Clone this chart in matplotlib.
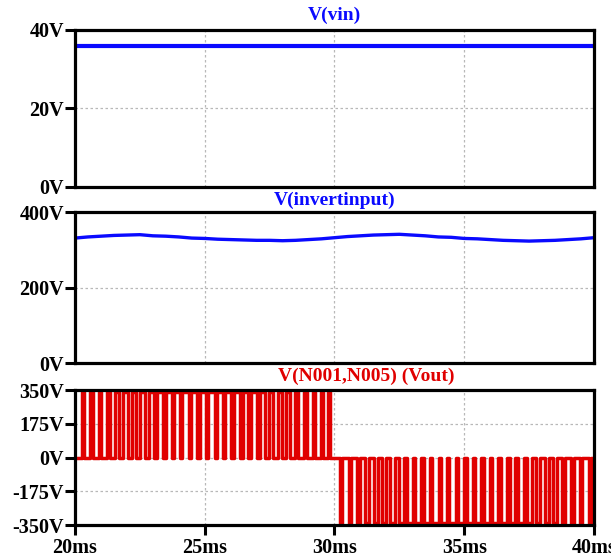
import matplotlib
matplotlib.use("Agg")
import matplotlib.pyplot as plt

plt.rcParams["font.family"] = ["Liberation Serif", "DejaVu Serif"]
plt.rcParams["font.weight"] = "bold"

# V(vin): constant input
vin_t = [20.0, 40.0]
vin_v = [36.0, 36.0]

# V(invertinput): DC bus with slow ripple (ms, V)
bus_t = [20, 20.5, 21, 21.5, 22, 22.5, 23, 23.5, 24, 24.5, 25, 25.5, 26, 26.5,
         27, 27.5, 28, 28.5, 29, 29.5, 30, 30.5, 31, 31.5, 32, 32.5, 33, 33.5,
         34, 34.5, 35, 35.5, 36, 36.5, 37, 37.5, 38, 38.5, 39, 39.5, 40]
bus_v = [331, 334, 336, 338, 339, 340, 337, 336, 334, 331, 330, 328, 327, 326,
         325, 325, 324, 325, 327, 329, 332, 335, 337, 339, 340, 341, 339, 337,
         334, 333, 330, 329, 327, 325, 324, 323, 324, 325, 327, 329, 332]

# V(N001,N005): PWM pulses (start ms, end ms) for each half cycle
vout_amp = 338.0
pos_pulses = [(20.27, 20.34), (20.59, 20.68), (20.91, 21.02), (21.23, 21.36),
              (21.55, 21.70), (21.87, 22.03), (22.19, 22.37), (22.51, 22.71),
              (22.84, 23.05), (23.16, 23.38), (23.49, 23.72), (23.81, 24.05),
              (24.14, 24.38), (24.47, 24.72), (24.80, 25.05), (25.13, 25.38),
              (25.46, 25.70), (25.79, 26.03), (26.12, 26.36), (26.46, 26.68),
              (26.80, 27.01), (27.13, 27.33), (27.47, 27.65), (27.81, 27.98),
              (28.15, 28.30), (28.48, 28.61), (28.82, 28.93), (29.17, 29.26),
              (29.50, 29.57), (29.75, 29.82)]
neg_pulses = [(30.20, 30.29), (30.55, 30.63), (30.87, 30.98), (31.19, 31.32),
              (31.51, 31.66), (31.83, 31.99), (32.15, 32.33), (32.47, 32.67),
              (32.80, 33.01), (33.12, 33.34), (33.45, 33.68), (33.77, 34.01),
              (34.10, 34.34), (34.43, 34.68), (34.76, 35.01), (35.09, 35.34),
              (35.42, 35.66), (35.75, 35.99), (36.08, 36.32), (36.42, 36.64),
              (36.76, 36.97), (37.09, 37.29), (37.43, 37.61), (37.77, 37.94),
              (38.11, 38.26), (38.44, 38.57), (38.78, 38.89), (39.13, 39.22),
              (39.46, 39.53), (39.80, 39.88)]

x_ticks = [20, 25, 30, 35, 40]
x_labels = ["20ms", "25ms", "30ms", "35ms", "40ms"]


def build_wave(pulses, level):
    t, v = [20.0], [0.0]
    for start, end in pulses:
        t += [start, start, end, end]
        v += [0.0, level, level, 0.0]
    return t, v


pt, pv = build_wave(pos_pulses, vout_amp)
nt, nv = build_wave(neg_pulses, -vout_amp)
out_t = pt + nt[1:] + [40.0]
out_v = pv + nv[1:] + [0.0]

fig = plt.figure(figsize=(6.11, 5.59), dpi=100)
left, width = 0.1227, 0.8494
ax1 = fig.add_axes([left, 0.6655, width, 0.2809])
ax2 = fig.add_axes([left, 0.3506, width, 0.2701])
ax3 = fig.add_axes([left, 0.0608, width, 0.2415])

blue = "#0a0aff"
red = "#e00000"

ax1.plot(vin_t, vin_v, color=blue, linewidth=3.0)
ax1.set_ylim(0, 40)
ax1.set_yticks([0, 20, 40])
ax1.set_yticklabels(["0V", "20V", "40V"])

ax2.plot(bus_t, bus_v, color=blue, linewidth=2.4)
ax2.set_ylim(0, 400)
ax2.set_yticks([0, 200, 400])
ax2.set_yticklabels(["0V", "200V", "400V"])

ax3.plot(out_t, out_v, color=red, linewidth=2.5)
ax3.set_ylim(-350, 350)
ax3.set_yticks([-350, -175, 0, 175, 350])
ax3.set_yticklabels(["-350V", "-175V", "0V", "175V", "350V"])

for ax in (ax1, ax2, ax3):
    ax.set_xlim(20, 40)
    ax.set_xticks(x_ticks)
    ax.grid(True, color="#b8b8b8", linestyle=(0, (2, 2)), linewidth=0.9)
    for s in ax.spines.values():
        s.set_linewidth(2.3)
        s.set_zorder(5)
    ax.tick_params(axis="y", direction="out", length=7, width=2.2,
                   labelsize=14.5, pad=1)
    ax.tick_params(axis="x", direction="out", length=0, labelbottom=False)
    for lab in ax.get_yticklabels():
        lab.set_fontweight("bold")

ax3.tick_params(axis="x", length=7, width=2.2, labelbottom=True, labelsize=14.5, pad=2)
ax3.set_xticklabels(x_labels, fontweight="bold")

fig.text(0.548, 0.972, "V(vin)", color=blue, fontsize=14, fontweight="bold",
         ha="center", va="center")
fig.text(0.548, 0.641, "V(invertinput)", color=blue, fontsize=14,
         fontweight="bold", ha="center", va="center")
fig.text(0.599, 0.326, "V(N001,N005) (Vout)", color=red, fontsize=14,
         fontweight="bold", ha="center", va="center")

fig.savefig("out.png", dpi=100)
